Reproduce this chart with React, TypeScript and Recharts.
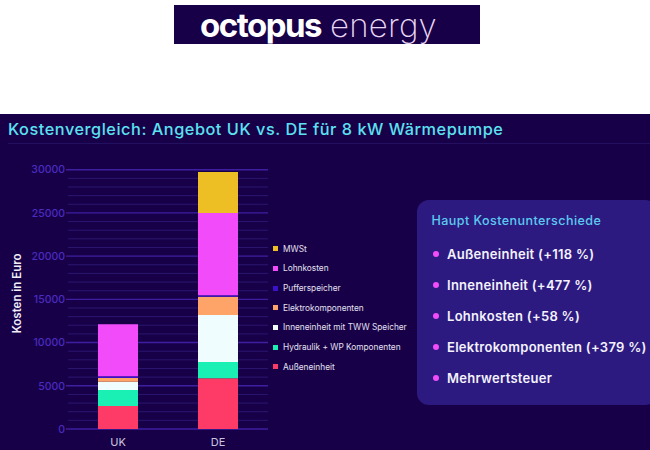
import React from 'react';
import { BarChart, Bar, CartesianGrid, XAxis, YAxis, Legend } from 'recharts';

const categories = ['UK', 'DE'];
const aussen = [2660, 5870];
const hydraulik = [1850, 1890];
const innen = [970, 5440];
const elektro = [420, 2090];
const puffer = [200, 190];
const lohn = [6020, 9500];
const mwst = [0, 4750];

const majorTicks = [0, 5000, 10000, 15000, 20000, 25000, 30000];
const minorTicks = [
  1000, 2000, 3000, 4000, 6000, 7000, 8000, 9000, 11000, 12000, 13000, 14000, 16000, 17000, 18000, 19000, 21000, 22000,
  23000, 24000, 26000, 27000, 28000, 29000,
];

const differences = ['Außeneinheit (+118 %)', 'Inneneinheit (+477 %)', 'Lohnkosten (+58 %)', 'Elektrokomponenten (+379 %)', 'Mehrwertsteuer'];

const FONT = 'Inter, "Open Sans", sans-serif';
const MAJOR_LINE = '#3d1fa0';

const series = [
  { key: 'aussen', name: 'Außeneinheit', values: aussen, color: '#fe3b66' },
  { key: 'hydraulik', name: 'Hydraulik + WP Komponenten', values: hydraulik, color: '#1af0b4' },
  { key: 'innen', name: 'Inneneinheit mit TWW Speicher', values: innen, color: '#effdff' },
  { key: 'elektro', name: 'Elektrokomponenten', values: elektro, color: '#ffa468' },
  { key: 'puffer', name: 'Pufferspeicher', values: puffer, color: '#3a12c8' },
  { key: 'lohn', name: 'Lohnkosten', values: lohn, color: '#f24cfa' },
  { key: 'mwst', name: 'MWSt', values: mwst, color: '#eebf24' },
];

const chartData = categories.map((name, i) => {
  const row: Record<string, string | number> = { name };
  series.forEach((s) => {
    row[s.key] = s.values[i];
  });
  return row;
});

const LegendList = () => (
  <div>
    {[...series].reverse().map((s) => (
      <div key={s.key} style={{ display: 'flex', alignItems: 'center', height: 19.65, fontFamily: FONT, fontSize: 8.3, color: '#e4e0f2', whiteSpace: 'nowrap' }}>
        <span style={{ width: 5, height: 5, background: s.color, marginRight: 5, flexShrink: 0 }} />
        {s.name}
      </div>
    ))}
  </div>
);

export default function App() {
  return (
    <div style={{ position: 'absolute', left: 0, top: 0, width: 650, height: 450, background: '#fff', overflow: 'hidden' }}>
      <div style={{ position: 'absolute', left: 174, top: 5, width: 306, height: 39, background: '#180048', overflow: 'hidden' }}>
        <span style={{ position: 'absolute', left: 26, top: 0, fontFamily: FONT, fontSize: 33, fontWeight: 700, letterSpacing: -1.5, color: '#fff', lineHeight: '40px' }}>octopus</span>
        <span style={{ position: 'absolute', left: 156, top: 0, fontFamily: FONT, fontSize: 33, fontWeight: 200, letterSpacing: 0.2, color: '#e8d8f4', lineHeight: '40px' }}>energy</span>
      </div>
      <div style={{ position: 'absolute', left: 0, top: 114, width: 650, height: 336, background: '#180048' }} />
      <div style={{ position: 'absolute', left: 8, top: 143, width: 642, height: 1, background: '#241060' }} />
      <div style={{ position: 'absolute', left: 8, top: 119, fontFamily: FONT, fontSize: 16.3, fontWeight: 500, letterSpacing: 0.54, color: '#5ce1f0', whiteSpace: 'nowrap' }}>
        Kostenvergleich: Angebot UK vs. DE für 8 kW Wärmepumpe
      </div>

      <div style={{ position: 'absolute', left: 0, top: 150 }}>
        <BarChart width={420} height={300} data={chartData} margin={{ top: 19.7, right: 152, bottom: 0, left: 0 }} barCategoryGap={30}>
          <CartesianGrid vertical={false} horizontalValues={minorTicks} stroke="#2a1670" strokeWidth={1} />
          <CartesianGrid vertical={false} horizontalValues={majorTicks} stroke={MAJOR_LINE} strokeWidth={1.4} />
          <XAxis dataKey="name" height={21} axisLine={false} tickLine={false} tick={{ fill: '#c9c5dc', fontSize: 11, fontFamily: FONT }} tickMargin={3} />
          <YAxis
            width={68}
            domain={[0, 30000]}
            ticks={majorTicks}
            interval={0}
            axisLine={false}
            tickLine={{ stroke: MAJOR_LINE, strokeWidth: 1.4 }}
            tickSize={2}
            tickMargin={1}
            tick={{ fill: '#4a2cc0', fontSize: 10.5, fontFamily: FONT, fontWeight: 500 }}
            label={{ value: 'Kosten in Euro', angle: -90, position: 'insideLeft', offset: 17, dy: -6, style: { fill: '#f0eef8', fontSize: 11.5, fontWeight: 600, fontFamily: FONT, textAnchor: 'middle' } }}
          />
          {series.map((s) => (
            <Bar key={s.key} dataKey={s.key} name={s.name} stackId="cost" fill={s.color} isAnimationActive={false} />
          ))}
          <Legend content={LegendList} layout="vertical" align="center" verticalAlign="middle" wrapperStyle={{ position: 'absolute', left: 273, top: 89, width: 147, bottom: 'auto' }} />
        </BarChart>
      </div>

      <div style={{ position: 'absolute', left: 417, top: 200, width: 240, height: 205, background: '#2d1a80', borderRadius: 12 }}>
        <div style={{ position: 'absolute', left: 14.5, top: 13, fontFamily: FONT, fontSize: 12.5, fontWeight: 500, letterSpacing: 0.45, color: '#5ccbf0', whiteSpace: 'nowrap' }}>Haupt Kostenunterschiede</div>
        {differences.map((d, i) => (
          <div key={d} style={{ position: 'absolute', left: 16, top: 45 + i * 31, display: 'flex', alignItems: 'center', height: 18, fontFamily: FONT, fontSize: 13, fontWeight: 600, letterSpacing: 0.28, color: '#f4f2fc', whiteSpace: 'nowrap' }}>
            <span style={{ width: 6, height: 6, borderRadius: 3, background: '#f24cfa', marginRight: 8 }} />
            {d}
          </div>
        ))}
      </div>
    </div>
  );
}
